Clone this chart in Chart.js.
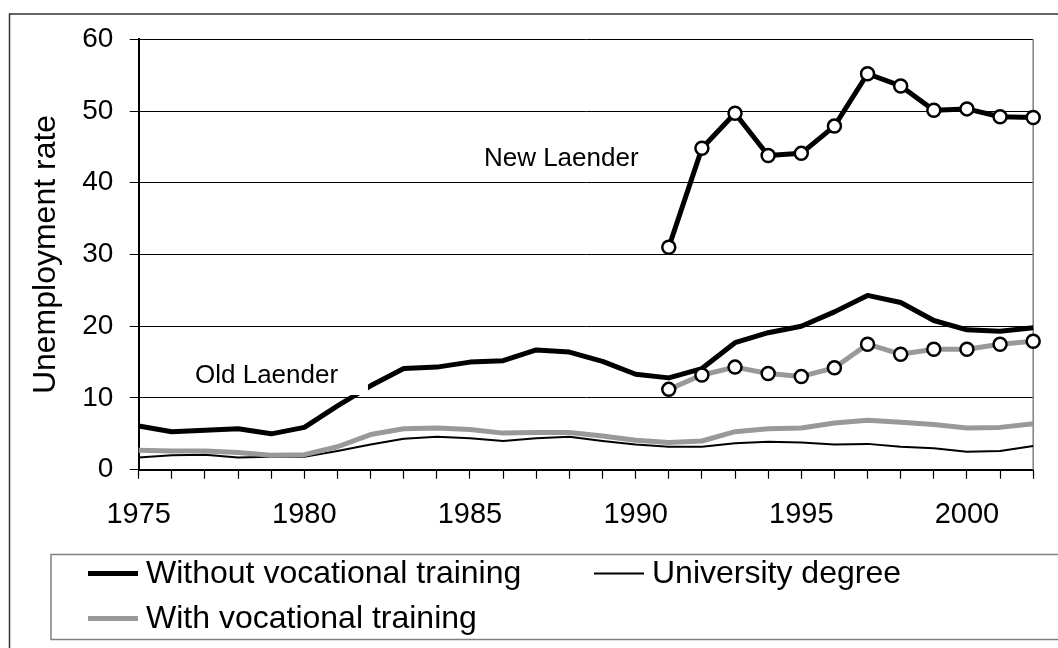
<!DOCTYPE html>
<html><head><meta charset="utf-8">
<script src="https://cdn.jsdelivr.net/npm/chart.js@4.4.1/dist/chart.umd.min.js"></script>
<style>html,body{margin:0;padding:0;background:#fff}canvas{display:block}</style>
</head><body>
<canvas id="c" width="1058" height="648"></canvas>
<script>
// ---------- data ----------
const years = ['1975','1976','1977','1978','1979','1980','1981','1982','1983','1984',
  '1985','1986','1987','1988','1989','1990','1991','1992','1993','1994',
  '1995','1996','1997','1998','1999','2000','2001','2002'];
const oldWithout = [6.1, 5.3, 5.5, 5.7, 5.0, 5.9, 8.9, 11.7, 14.1, 14.3, 15.0, 15.2, 16.7, 16.4,
  15.1, 13.3, 12.8, 14.1, 17.7, 19.1, 20.0, 22.0, 24.3, 23.3, 20.8, 19.5, 19.3, 19.8];
const university = [1.7, 2.0, 2.1, 1.7, 1.8, 1.8, 2.6, 3.5, 4.3, 4.6, 4.4, 4.0, 4.4, 4.6,
  4.0, 3.5, 3.2, 3.2, 3.7, 3.9, 3.8, 3.5, 3.6, 3.2, 3.0, 2.5, 2.6, 3.3];
const oldWith = [2.7, 2.6, 2.6, 2.4, 2.0, 2.1, 3.2, 4.9, 5.7, 5.8, 5.6, 5.1, 5.2, 5.2,
  4.7, 4.1, 3.8, 4.0, 5.3, 5.7, 5.8, 6.5, 6.9, 6.6, 6.3, 5.8, 5.9, 6.4];
const newYears = ['1991','1992','1993','1994','1995','1996','1997','1998','1999','2000','2001','2002'];
const newWithout = [31.0, 44.8, 49.7, 43.8, 44.1, 47.9, 55.2, 53.5, 50.1, 50.3, 49.2, 49.1];
const newWith = [11.2, 13.2, 14.3, 13.4, 13.0, 14.2, 17.5, 16.1, 16.8, 16.8, 17.5, 17.9];
const yTicks = [0, 10, 20, 30, 40, 50, 60];
const seriesNames = ['Without vocational training', 'University degree', 'With vocational training'];
const axisTitle = 'Unemployment rate';
const noteNew = 'New Laender';
const noteOld = 'Old Laender';

// ---------- styling / layout ----------
const FONT = '"Liberation Sans", Arial, Helvetica, sans-serif';
const GRAY = '#999999';
const padNew = arr => years.map(y => { const i = newYears.indexOf(y); return i < 0 ? null : arr[i]; });

const notes = [
  { text: noteNew, x: 10.42, y: 42.4 },
  { text: noteOld, x: 1.70, y: 12.13, box: [1.35, 6.92, 10.41, 16.3] }
];

const decoPlugin = {
  id: 'deco',
  beforeDatasetsDraw(chart) {
    const { ctx, chartArea: a } = chart;
    ctx.save();
    ctx.strokeStyle = '#808080'; ctx.lineWidth = 1.5;
    ctx.beginPath(); ctx.moveTo(a.right, a.top); ctx.lineTo(a.right, a.bottom); ctx.stroke();
    ctx.restore();
  },
  afterDatasetsDraw(chart) {
    const { ctx, scales: { x, y } } = chart;
    ctx.save();
    for (const n of notes) {
      if (n.box) {
        const l = x.getPixelForValue(n.box[0]), r = x.getPixelForValue(n.box[1]);
        const b = y.getPixelForValue(n.box[2]), t = y.getPixelForValue(n.box[3]);
        ctx.fillStyle = '#fff'; ctx.fillRect(l, t, r - l, b - t);
      }
      ctx.font = '26px ' + FONT; ctx.fillStyle = '#000';
      ctx.textAlign = 'left'; ctx.textBaseline = 'alphabetic';
      ctx.fillText(n.text, x.getPixelForValue(n.x), y.getPixelForValue(n.y));
    }
    ctx.restore();
  },
  afterDraw(chart) {
    const { ctx } = chart;
    ctx.save();
    // outer chart frame
    ctx.strokeStyle = '#333'; ctx.lineWidth = 1.5;
    ctx.strokeRect(9.5, 14, 1200, 800);
    // legend box
    ctx.strokeStyle = '#808080'; ctx.lineWidth = 1.5;
    ctx.fillStyle = '#fff';
    ctx.fillRect(51, 554.5, 1200, 85);
    ctx.strokeRect(51, 554.5, 1200, 85);
    const cols = [88, 594], rows = [573.5, 618.5];
    const items = chart.data.datasets.filter(d => d.inLegend);
    items.forEach((d, i) => {
      const cx = cols[i % 2], cy = rows[Math.floor(i / 2)];
      ctx.strokeStyle = d.borderColor; ctx.lineWidth = d.borderWidth; ctx.lineCap = 'butt';
      ctx.beginPath(); ctx.moveTo(cx, cy); ctx.lineTo(cx + 50, cy); ctx.stroke();
      ctx.font = '32px ' + FONT; ctx.fillStyle = '#000';
      ctx.textAlign = 'left'; ctx.textBaseline = 'middle';
      ctx.fillText(d.label, cx + 58, cy + 1);
    });
    ctx.restore();
  }
};

const lineBase = { pointRadius: 0, borderJoinStyle: 'round', tension: 0, spanGaps: false, fill: false };
const markers = { pointRadius: 6.5, pointBorderWidth: 2.5, pointBackgroundColor: '#fff',
  pointBorderColor: '#000', pointHoverRadius: 6.5 };

new Chart(document.getElementById('c'), {
  type: 'line',
  data: {
    labels: years,
    datasets: [
      Object.assign({}, lineBase, { label: seriesNames[0], data: oldWithout, borderColor: '#000', borderWidth: 5, order: 2, inLegend: true }),
      Object.assign({}, lineBase, { label: seriesNames[1], data: university, borderColor: '#000', borderWidth: 2, order: 4, inLegend: true }),
      Object.assign({}, lineBase, { label: seriesNames[2], data: oldWith, borderColor: GRAY, borderWidth: 5, order: 3, inLegend: true }),
      Object.assign({}, lineBase, markers, { label: seriesNames[0] + ' (' + noteNew + ')', data: padNew(newWithout), borderColor: '#000', borderWidth: 5, order: 1 }),
      Object.assign({}, lineBase, markers, { label: seriesNames[2] + ' (' + noteNew + ')', data: padNew(newWith), borderColor: GRAY, borderWidth: 5, order: 0 })
    ]
  },
  options: {
    responsive: false,
    devicePixelRatio: 1,
    animation: false,
    layout: { padding: { left: 0, right: 24.8, top: 39.3, bottom: 78.3 } },
    plugins: { legend: { display: false }, tooltip: { enabled: false } },
    scales: {
      x: {
        type: 'category',
        offset: false,
        afterFit(s) { s.height = 100; },
        grid: { drawOnChartArea: false, drawTicks: true, tickLength: 9, color: '#000', tickWidth: 1.2 },
        border: { color: '#000', width: 2 },
        ticks: {
          autoSkip: false, maxRotation: 0, minRotation: 0, padding: 18.5,
          color: '#000', font: { family: FONT, size: 29 },
          callback: (v, i) => (Number(years[i]) % 5 === 0 ? years[i] : '')
        }
      },
      y: {
        min: yTicks[0], max: yTicks[yTicks.length - 1],
        afterFit(s) { s.width = 138.7; },
        afterBuildTicks(s) { s.ticks = yTicks.map(v => ({ value: v })); },
        grid: { color: '#000', lineWidth: 1, drawTicks: true, tickLength: 9 },
        border: { color: '#000', width: 2 },
        ticks: { padding: 16.4, color: '#000', font: { family: FONT, size: 28 } },
        title: { display: true, text: axisTitle, color: '#000', font: { family: FONT, size: 32 },
          padding: { top: 26.7, bottom: 0 } }
      }
    }
  },
  plugins: [decoPlugin]
});
</script>
</body></html>
